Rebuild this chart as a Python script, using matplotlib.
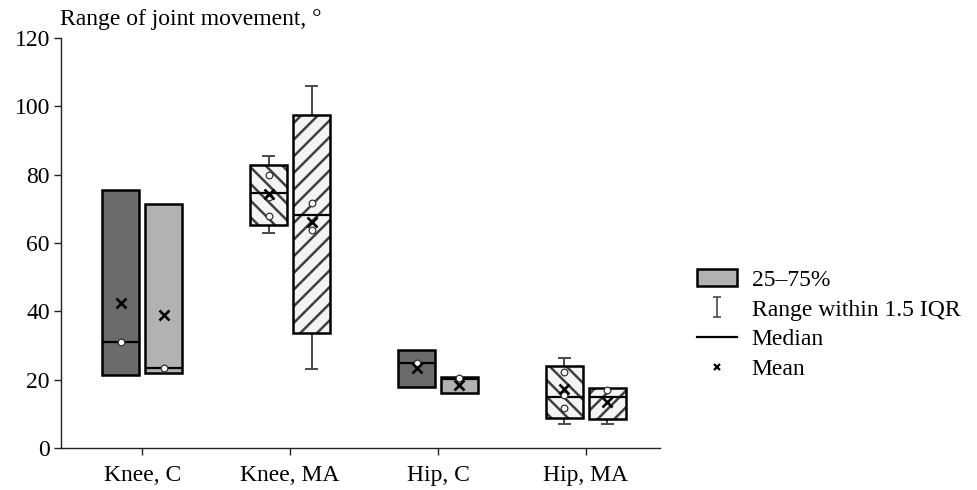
import matplotlib
matplotlib.use("Agg")
import matplotlib.pyplot as plt
from matplotlib.patches import Patch
from matplotlib.lines import Line2D
from matplotlib.path import Path

plt.rcParams['font.family'] = ['Liberation Serif', 'DejaVu Serif']
plt.rcParams['hatch.linewidth'] = 1.8

categories = ["Knee, C", "Knee, MA", "Hip, C", "Hip, MA"]

# each category has two groups (left / right box)
q1 = [[21.3, 21.9], [65.2, 33.6], [17.8, 16.1], [8.8, 8.5]]
q3 = [[75.4, 71.3], [82.8, 97.4], [28.7, 20.8], [24.0, 17.5]]
med = [[31.0, 23.4], [74.6, 68.1], [24.9, 20.2], [14.9, 14.9]]
mean = [[42.4, 38.9], [74.3, 66.1], [23.4, 18.5], [17.3, 13.5]]
whis_lo = [[21.3, 21.9], [62.9, 23.1], [17.8, 16.1], [7.0, 7.0]]
whis_hi = [[75.4, 71.3], [85.4, 106.1], [28.7, 20.8], [26.3, 17.5]]
points = [
    [[31.0], [23.4]],
    [[80.0, 73.4, 67.8], [71.6, 63.7]],
    [[24.9], [20.5]],
    [[22.2, 15.5, 11.7], [17.0]],
]

faces = [['#6b6b6b', '#b2b2b2'], ['#f4f4f4', '#f4f4f4'],
         ['#6b6b6b', '#b2b2b2'], ['#f4f4f4', '#f4f4f4']]
hatches = [[None, None], ['\\\\', '//'], [None, None], ['\\\\', '//']]

fig = plt.figure(figsize=(9.77, 4.9), dpi=100)
ax = fig.add_axes([0.0624, 0.0857, 0.613, 0.8367])

w = 0.25
off = 0.145
cap = 0.045
wc = '#4a4a4a'
for i in range(len(categories)):
    for j in range(2):
        x = i + (-off if j == 0 else off)
        # fill + hatch in grey, then a black outline on top
        ax.bar(x, q3[i][j] - q1[i][j], bottom=q1[i][j], width=w,
               color=faces[i][j], edgecolor='#404040', linewidth=0,
               hatch=hatches[i][j], zorder=2)
        ax.bar(x, q3[i][j] - q1[i][j], bottom=q1[i][j], width=w,
               fill=False, edgecolor='black', linewidth=1.8, zorder=2.5)
        if whis_hi[i][j] > q3[i][j]:
            ax.vlines(x, q3[i][j], whis_hi[i][j], color=wc, lw=1.4, zorder=1)
            ax.hlines(whis_hi[i][j], x - cap, x + cap, color=wc, lw=1.4, zorder=1)
        if whis_lo[i][j] < q1[i][j]:
            ax.vlines(x, whis_lo[i][j], q1[i][j], color=wc, lw=1.4, zorder=1)
            ax.hlines(whis_lo[i][j], x - cap, x + cap, color=wc, lw=1.4, zorder=1)
        ax.hlines(med[i][j], x - w / 2, x + w / 2, color='black', lw=1.6, zorder=3)
        ax.plot([x] * len(points[i][j]), points[i][j], 'o', ms=4.8,
                mfc='white', mec='#333333', mew=0.9, zorder=4)
        ax.plot(x, mean[i][j], 'x', ms=6.5, mec='black', mew=1.9, zorder=5)

ax.set_xlim(-0.55, 3.5)
ax.set_ylim(0, 120)
ax.set_xticks(range(len(categories)))
ax.set_xticklabels(categories)
ax.set_yticks(range(0, 121, 20))
ax.spines['top'].set_visible(False)
ax.spines['right'].set_visible(False)
for s in ['left', 'bottom']:
    ax.spines[s].set_linewidth(1.0)
    ax.spines[s].set_color('#222222')
ax.tick_params(labelsize=17, length=5, width=1.0, color='#222222')
ax.tick_params(axis='x', pad=7)
ax.tick_params(axis='y', pad=3)

fig.text(0.0614, 0.95, "Range of joint movement, °", fontsize=17, va='baseline')

range_marker = Path([(-0.45, -1), (0.45, -1), (0, -1), (0, 1), (-0.45, 1), (0.45, 1)],
                    [Path.MOVETO, Path.LINETO, Path.MOVETO, Path.LINETO,
                     Path.MOVETO, Path.LINETO])
handles = [
    Patch(facecolor='#b2b2b2', edgecolor='black', linewidth=1.8),
    Line2D([], [], ls='none', marker=range_marker, ms=14, mec=wc, mew=1.2),
    Line2D([], [], color='black', lw=1.6),
    Line2D([], [], ls='none', marker='x', ms=5, mec='black', mew=1.6),
]
labels = ["25–75%", "Range within 1.5 IQR", "Median", "Mean"]
fig.legend(handles, labels, loc='upper left', bbox_to_anchor=(0.704, 0.47),
           frameon=False, fontsize=17, handlelength=1.7, handleheight=0.75,
           labelspacing=0.33, handletextpad=0.6, borderaxespad=0)

fig.savefig("out.png", dpi=100)
